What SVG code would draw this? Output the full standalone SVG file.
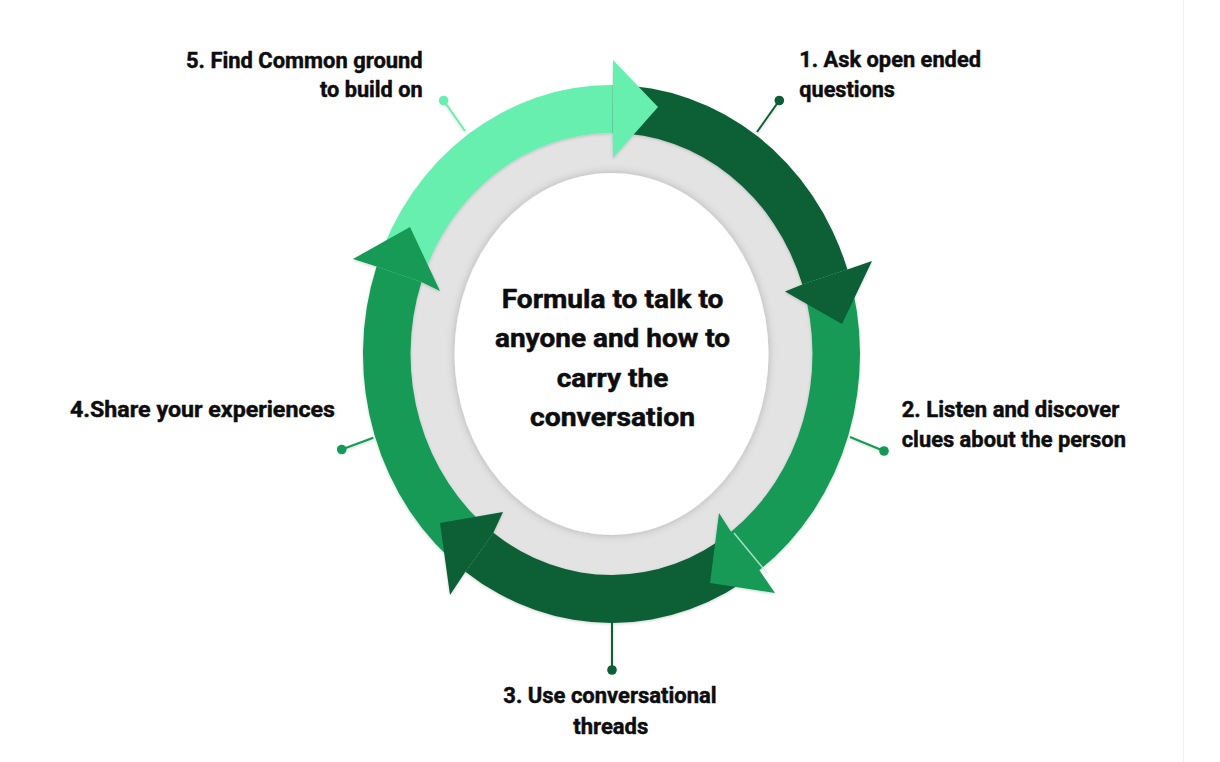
<svg xmlns="http://www.w3.org/2000/svg" width="1220" height="762" viewBox="0 0 1220 762">
  <defs>
    <style>
      .lbl { font-family: Roboto, "Liberation Sans", Arial, sans-serif; font-weight: 700; font-size: 21.5px; fill: #0d0d0d; stroke: #0d0d0d; stroke-width: 0.45px; }
      .ctr { font-family: Roboto, "Liberation Sans", Arial, sans-serif; font-weight: 700; font-size: 25px; fill: #0d0d0d; stroke: #0d0d0d; stroke-width: 0.5px; }
      .light { fill: #66efaf; }
      .mid { fill: #149a57; }
      .dark { fill: #0b5e36; }
      .lead { stroke-width: 2; fill: none; }
    </style>
    <filter id="soft" x="-20%" y="-20%" width="140%" height="140%">
      <feDropShadow dx="0" dy="0" stdDeviation="4" flood-color="#000" flood-opacity="0.22"/>
    </filter>
    <filter id="ringshadow" x="-10%" y="-10%" width="120%" height="120%">
      <feDropShadow dx="0" dy="1" stdDeviation="1.5" flood-color="#000" flood-opacity="0.18"/>
    </filter>
  </defs>

  <rect x="0" y="0" width="1220" height="762" fill="#ffffff"/>
  <line x1="1183.5" y1="0" x2="1183.5" y2="762" stroke="#f0f0f0" stroke-width="1"/>

  <!-- background disk -->
  <g id="hub-back">
    <ellipse cx="611.5" cy="354" rx="205" ry="222" fill="#e3e3e3"/>
  </g>

  <!-- cycle arrows (connectors) -->
  <g id="connectors" filter="url(#ringshadow)">
    <g id="ring-bodies">
      <path class="light" d="M376.54,266.42 A248.5,269 0 0 1 612.80,85.0 L612.55,133.0 A201,221 0 0 0 421.45,282.05 Z"/>
      <path class="dark" d="M612.80,85.0 A248.5,269 0 0 1 847.43,269.54 L802.34,284.61 A201,221 0 0 0 612.55,133.0 Z"/>
      <path class="mid" d="M847.43,269.54 A248.5,269 0 0 1 759.31,570.24 L731.06,531.65 A201,221 0 0 0 802.34,284.61 Z"/>
      <path class="dark" d="M759.31,570.24 A248.5,269 0 0 1 465.43,571.63 L493.35,532.79 A201,221 0 0 0 731.06,531.65 Z"/>
      <path class="mid" d="M465.43,571.63 A248.5,269 0 0 1 376.54,266.42 L421.45,282.05 A201,221 0 0 0 493.35,532.79 Z"/>
    </g>
    <g id="ring-heads">
      <polygon class="light" points="613,60 658,107 613,158 612.55,133 612.8,85"/>
      <polygon class="dark" points="872,261 842,324 785,291.5 802.34,284.61 847.43,269.54"/>
      <polygon class="mid" points="719,513 710,583 775,593 759.31,570.24 731.06,531.65"/>
      <line x1="734" y1="533" x2="767" y2="573" stroke="#c9f2da" stroke-width="1.5" opacity="0.8"/>
      <polygon class="dark" points="503,512 440,523 450,595 465.43,571.63 493.35,532.79"/>
      <polygon class="mid" points="440,291 410,227 353,259 376.54,266.42 421.45,282.05"/>
    </g>
    <g id="leaders">
      <line class="lead" x1="757" y1="132" x2="779.3" y2="100.5" stroke="#0b5e36"/>
      <line class="lead" x1="850" y1="437" x2="884" y2="451" stroke="#149a57"/>
      <line class="lead" x1="612" y1="623" x2="612" y2="670" stroke="#0b5e36"/>
      <line class="lead" x1="373.3" y1="437.7" x2="341.7" y2="449.5" stroke="#149a57"/>
      <line class="lead" x1="465" y1="131" x2="443.6" y2="100.5" stroke="#66efaf"/>
    </g>
  </g>

  <!-- center node -->
  <g id="node-center">
    <ellipse cx="611.5" cy="354" rx="157" ry="181" fill="#ffffff" filter="url(#soft)"/>
    <text class="ctr" x="501.7" y="307.5" textLength="221.7" lengthAdjust="spacingAndGlyphs">Formula to talk to</text>
    <text class="ctr" x="495" y="347" textLength="235" lengthAdjust="spacingAndGlyphs">anyone and how to</text>
    <text class="ctr" x="556.7" y="386.5" textLength="111.7" lengthAdjust="spacingAndGlyphs">carry the</text>
    <text class="ctr" x="530" y="426" textLength="165" lengthAdjust="spacingAndGlyphs">conversation</text>
  </g>

  <g id="node-1">
    <circle class="dark" cx="779.3" cy="100.5" r="4.8"/>
    <text class="lbl" x="799.3" y="67.3" textLength="181.7" lengthAdjust="spacingAndGlyphs">1. Ask open ended</text>
    <text class="lbl" x="799.3" y="96.7" textLength="95.7" lengthAdjust="spacingAndGlyphs">questions</text>
  </g>

  <g id="node-2">
    <circle class="mid" cx="884" cy="451" r="4.8"/>
    <text class="lbl" x="901.7" y="417.3" textLength="217.6" lengthAdjust="spacingAndGlyphs">2. Listen and discover</text>
    <text class="lbl" x="901.7" y="446.7" textLength="224.3" lengthAdjust="spacingAndGlyphs">clues about the person</text>
  </g>

  <g id="node-3">
    <circle class="dark" cx="612" cy="670" r="4.8"/>
    <text class="lbl" x="503.3" y="703.3" textLength="213.4" lengthAdjust="spacingAndGlyphs">3. Use conversational</text>
    <text class="lbl" x="573.3" y="734" textLength="75" lengthAdjust="spacingAndGlyphs">threads</text>
  </g>

  <g id="node-4">
    <circle class="mid" cx="341.7" cy="449.5" r="4.8"/>
    <text class="lbl" x="70" y="417" textLength="265" lengthAdjust="spacingAndGlyphs">4.Share your experiences</text>
  </g>

  <g id="node-5">
    <circle class="light" cx="443.6" cy="100.5" r="4.8"/>
    <text class="lbl" x="186" y="68.3" textLength="236.7" lengthAdjust="spacingAndGlyphs">5. Find Common ground</text>
    <text class="lbl" x="320" y="97.3" textLength="102.7" lengthAdjust="spacingAndGlyphs">to build on</text>
  </g>
</svg>
